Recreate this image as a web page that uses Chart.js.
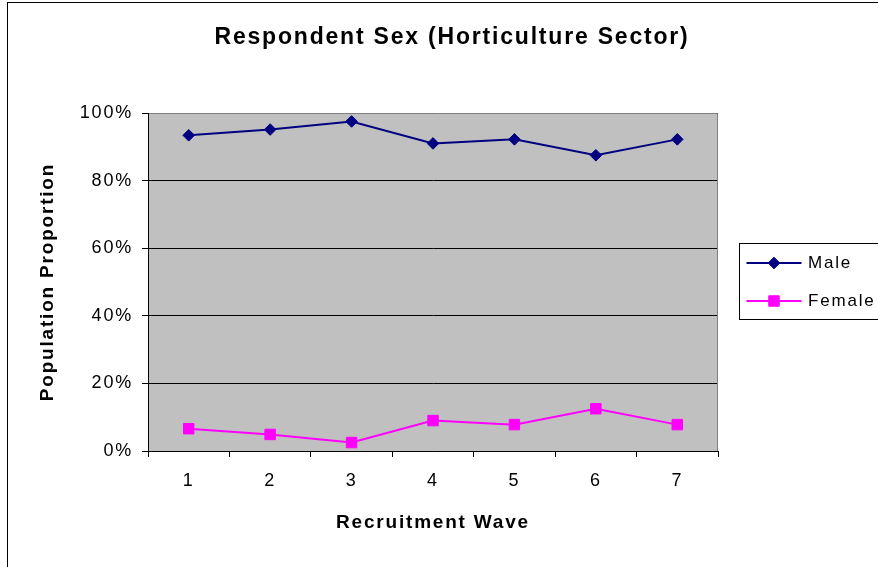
<!DOCTYPE html>
<html>
<head>
<meta charset="utf-8">
<script src="https://cdn.jsdelivr.net/npm/chart.js@4.4.1/dist/chart.umd.min.js"></script>
<style>
  html, body { margin: 0; padding: 0; background: #fff; }
  #wrap { width: 878px; height: 567px; }
  canvas { display: block; }
</style>
</head>
<body>
<div id="wrap"><canvas id="chart" width="878" height="567"></canvas></div>
<script>
// Recruitment waves on the x axis
const waves = ['1', '2', '3', '4', '5', '6', '7'];

// Share of respondents per wave, in percent
const maleShare = [93.4, 95.1, 97.5, 91.0, 92.2, 87.5, 92.2];
const femaleShare = [6.6, 4.9, 2.5, 9.0, 7.8, 12.5, 7.8];

// Tick values on the proportion axis
const percentTicks = [0, 20, 40, 60, 80, 100];

const seriesNames = ['Male', 'Female'];

const FONT = 'Arial, "Liberation Sans", sans-serif';
const LETTER_SPACING = '1.8px';

// Wide, spaced-out lettering for every label on the canvas
const spacedText = {
  id: 'spacedText',
  beforeUpdate(chart) { chart.ctx.letterSpacing = LETTER_SPACING; },
  beforeLayout(chart) { chart.ctx.letterSpacing = LETTER_SPACING; },
  beforeDraw(chart) { chart.ctx.letterSpacing = LETTER_SPACING; }
};

// Page frame, grey plot background and the grey top/right plot edges
const plotFrame = {
  id: 'plotFrame',
  beforeDraw(chart) {
    const { ctx, chartArea: a } = chart;
    ctx.save();
    ctx.fillStyle = '#ffffff';
    ctx.fillRect(0, 0, chart.width, chart.height);
    ctx.strokeStyle = '#000000';
    ctx.lineWidth = 1;
    ctx.strokeRect(7.5, 2.5, chart.width + 20, chart.height + 20);
    ctx.fillStyle = '#c0c0c0';
    ctx.fillRect(a.left, a.top, a.right - a.left, a.bottom - a.top);
    ctx.restore();
  },
  beforeDatasetsDraw(chart) {
    const { ctx, chartArea: a } = chart;
    ctx.save();
    ctx.strokeStyle = '#808080';
    ctx.lineWidth = 1;
    ctx.beginPath();
    ctx.moveTo(a.left + 1, a.top + 0.5);
    ctx.lineTo(a.right - 0.5, a.top + 0.5);
    ctx.lineTo(a.right - 0.5, a.bottom);
    ctx.stroke();
    ctx.restore();
  }
};

// Boxed legend to the right of the plot: line sample with marker, then name
const sideLegend = {
  id: 'sideLegend',
  afterDraw(chart) {
    const { ctx, chartArea: a } = chart;
    const mid = Math.round((a.top + a.bottom) / 2);
    const x0 = Math.round(a.right) + 21.5;
    const top = mid - 38.5;
    ctx.save();
    ctx.letterSpacing = '1.8px';
    ctx.fillStyle = '#ffffff';
    ctx.fillRect(x0, top, 140, 76);
    ctx.strokeStyle = '#000000';
    ctx.lineWidth = 1;
    ctx.strokeRect(x0, top, 140, 76);
    chart.data.datasets.forEach((ds, i) => {
      const y = Math.round(mid + (i - 0.5) * 38);
      ctx.strokeStyle = ds.borderColor;
      ctx.lineWidth = ds.borderWidth;
      ctx.beginPath();
      ctx.moveTo(x0 + 7, y);
      ctx.lineTo(x0 + 62, y);
      ctx.stroke();
      ctx.fillStyle = ds.pointBackgroundColor;
      ctx.strokeStyle = ds.pointBorderColor;
      ctx.lineWidth = ds.pointBorderWidth;
      Chart.helpers.drawPoint(ctx, {
        pointStyle: ds.pointStyle,
        radius: ds.pointRadius,
        borderWidth: ds.pointBorderWidth,
        rotation: 0
      }, x0 + 34.5, y);
      ctx.fillStyle = '#000000';
      ctx.font = '17px ' + FONT;
      ctx.textAlign = 'left';
      ctx.textBaseline = 'middle';
      ctx.fillText(ds.label, x0 + 68.5, y);
    });
    ctx.restore();
  }
};

new Chart(document.getElementById('chart'), {
  type: 'line',
  data: {
    labels: waves,
    datasets: [
      {
        label: seriesNames[0],
        data: maleShare,
        borderColor: '#000080',
        backgroundColor: '#000080',
        pointBackgroundColor: '#000080',
        pointBorderColor: '#000080',
        borderWidth: 2,
        pointStyle: 'rectRot',
        pointRadius: 5.8,
        pointBorderWidth: 1,
        tension: 0,
        fill: false
      },
      {
        label: seriesNames[1],
        data: femaleShare,
        borderColor: '#ff00ff',
        backgroundColor: '#ff00ff',
        pointBackgroundColor: '#ff00ff',
        pointBorderColor: '#ff00ff',
        borderWidth: 2,
        pointStyle: 'rect',
        pointRadius: 7.4,
        pointBorderWidth: 1,
        tension: 0,
        fill: false
      }
    ]
  },
  options: {
    responsive: false,
    animation: false,
    devicePixelRatio: 1,
    layout: { padding: { left: 26, right: 0, top: 0, bottom: 0 } },
    plugins: {
      legend: { display: false },
      tooltip: { enabled: false },
      title: {
        display: true,
        text: 'Respondent Sex (Horticulture Sector)',
        color: '#000000',
        font: { family: FONT, size: 23, weight: 'bold', lineHeight: 1.2 },
        padding: { top: 24.2, bottom: 61.2 }
      }
    },
    scales: {
      x: {
        type: 'category',
        offset: true,
        grid: { offset: true, drawOnChartArea: false, drawTicks: true, tickLength: 6, color: '#000000' },
        border: { color: '#000000', width: 1 },
        ticks: { color: '#000000', font: { family: FONT, size: 18 }, padding: 13.5, maxRotation: 0, autoSkip: false },
        title: {
          display: true,
          text: 'Recruitment Wave',
          color: '#000000',
          font: { family: FONT, size: 19, weight: 'bold', lineHeight: 1.2 },
          padding: { top: 0, bottom: 32.6 }
        },
        afterFit(scale) { scale.height = 116; }
      },
      y: {
        min: 0,
        max: 100,
        afterBuildTicks(scale) { scale.ticks = percentTicks.map(v => ({ value: v })); },
        grid: { color: '#000000', tickLength: 6 },
        border: { color: '#000000', width: 1 },
        ticks: { color: '#000000', font: { family: FONT, size: 18 }, padding: 9, callback: v => v + '%' },
        title: {
          display: true,
          text: 'Population Proportion',
          color: '#000000',
          font: { family: FONT, size: 19, weight: 'bold', lineHeight: 1.2 },
          padding: { top: 10.6, bottom: 0 }
        },
        afterFit(scale) { scale.width = 122; }
      },
      legendSpace: {
        type: 'linear',
        position: 'right',
        display: true,
        grid: { display: false },
        ticks: { display: false },
        border: { display: false },
        afterFit(scale) { scale.width = 160; }
      }
    }
  },
  plugins: [spacedText, plotFrame, sideLegend]
});
</script>
</body>
</html>
